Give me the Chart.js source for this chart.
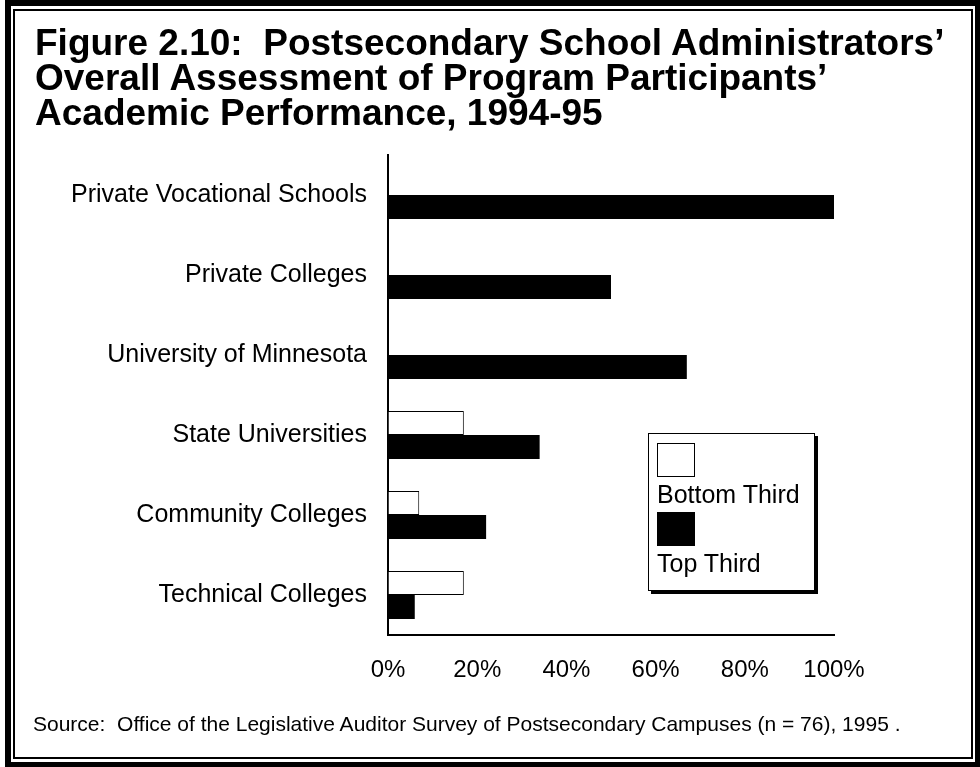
<!DOCTYPE html>
<html>
<head>
<meta charset="utf-8">
<script src="https://cdn.jsdelivr.net/npm/chart.js@4"></script>
<style>
  html, body { margin: 0; padding: 0; background: #fff; }
  body { width: 980px; height: 767px; position: relative; overflow: hidden; font-family: "Liberation Sans", Arial, sans-serif; }
  #chart { position: absolute; left: 0; top: 0; }
  .frame-outer { position: absolute; left: 5px; top: 0; width: 975px; height: 767px; box-sizing: border-box;
    border-style: solid; border-color: #000; border-width: 6px 5px 5px 6px; }
  .frame-inner { position: absolute; left: 13px; top: 9px; width: 960px; height: 750px; box-sizing: border-box;
    border: 2px solid #000; }
  .title { position: absolute; left: 35px; top: 25px; font-weight: bold; font-size: 37px; line-height: 35px; color: #000; white-space: nowrap; }
  .source { position: absolute; left: 33px; top: 712px; font-size: 21px; line-height: 24px; color: #000; white-space: nowrap; }
  #legend { position: absolute; left: 648px; top: 433px; width: 167px; height: 158px; box-sizing: border-box;
    border: 1px solid #000; background: #fff; box-shadow: 3px 3px 0 #000; padding: 9px 0 0 8px; }
  #legend .swatch { width: 38px; height: 34px; box-sizing: border-box; border: 1px solid #000; }
  #legend .label { font-size: 25px; line-height: 35px; white-space: nowrap; }
</style>
</head>
<body>
<canvas id="chart" width="980" height="767"></canvas>
<div class="title">Figure 2.10:&nbsp; Postsecondary School Administrators’<br>Overall Assessment of Program Participants’<br>Academic Performance, 1994-95</div>
<div class="source">Source:&nbsp; Office of the Legislative Auditor Survey of Postsecondary Campuses (n = 76), 1995 .</div>
<div id="legend"></div>
<div class="frame-outer"></div>
<div class="frame-inner"></div>
<script>
const categories = ['Private Vocational Schools', 'Private Colleges', 'University of Minnesota',
  'State Universities', 'Community Colleges', 'Technical Colleges'];
const bottomThird = [0, 0, 0, 17, 7, 17];
const topThird = [100, 50, 67, 34, 22, 6];
const xTicks = [0, 20, 40, 60, 80, 100];

const ctx = document.getElementById('chart').getContext('2d');
const chart = new Chart(ctx, {
  type: 'bar',
  data: {
    labels: categories,
    datasets: [
      {
        label: 'Bottom Third',
        data: bottomThird,
        backgroundColor: '#fff',
        borderColor: '#000',
        borderWidth: 1
      },
      {
        label: 'Top Third',
        data: topThird,
        backgroundColor: '#000',
        borderColor: '#000',
        borderWidth: 0
      }
    ]
  },
  options: {
    indexAxis: 'y',
    responsive: false,
    animation: false,
    devicePixelRatio: 1,
    categoryPercentage: 0.6,
    barPercentage: 1.0,
    layout: { padding: { top: 155, right: 146, bottom: 0, left: 0 } },
    scales: {
      y: {
        afterFit: (s) => { s.width = 388; },
        grid: { drawOnChartArea: false, drawTicks: false },
        border: { display: true, color: '#000', width: 2 },
        ticks: {
          color: '#000',
          padding: 21,
          font: { family: '"Liberation Sans", Arial, sans-serif', size: 25 }
        }
      },
      x: {
        min: 0,
        max: 100,
        afterFit: (s) => { s.height = 132; },
        afterBuildTicks: (s) => { s.ticks = xTicks.map(v => ({ value: v })); },
        grid: { drawOnChartArea: false, drawTicks: false },
        border: { display: true, color: '#000', width: 2 },
        ticks: {
          color: '#000',
          padding: 21,
          maxRotation: 0,
          font: { family: '"Liberation Sans", Arial, sans-serif', size: 24 },
          callback: (v) => v + '%'
        }
      }
    },
    plugins: {
      legend: { display: false },
      title: { display: false },
      tooltip: { enabled: false }
    }
  }
});

// vertical legend: swatch above its label
const legendEl = document.getElementById('legend');
chart.data.datasets.forEach(ds => {
  const sw = document.createElement('div');
  sw.className = 'swatch';
  sw.style.background = ds.backgroundColor;
  legendEl.appendChild(sw);
  const lb = document.createElement('div');
  lb.className = 'label';
  lb.textContent = ds.label;
  legendEl.appendChild(lb);
});
</script>
</body>
</html>
